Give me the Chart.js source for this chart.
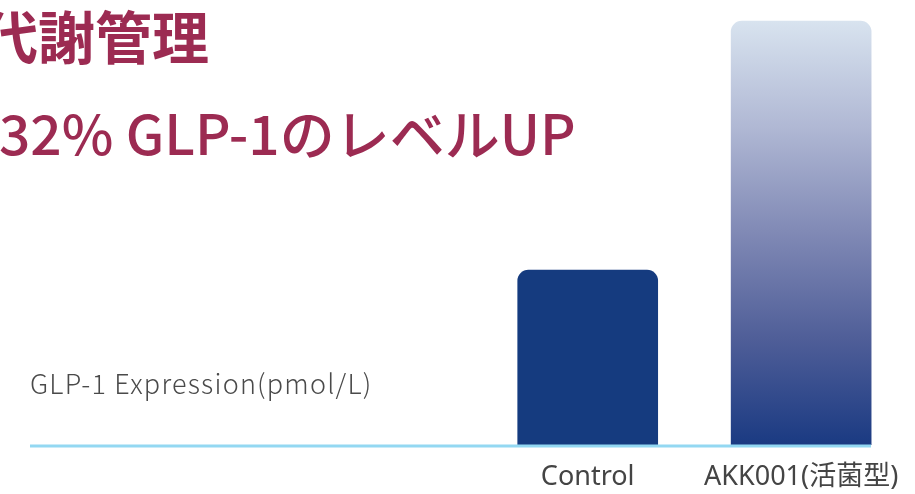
<!DOCTYPE html>
<html>
<head>
<meta charset="utf-8">
<script src="https://cdn.jsdelivr.net/npm/chart.js"></script>
<style>
  body { margin: 0; background: #fff; overflow: hidden; }
  #wrap { position: relative; width: 915px; height: 494px; }
  #chart { position: absolute; left: 0; top: 0; }
  .title1 {
    position: absolute; left: -19px; top: -7px; white-space: nowrap;
    font-family: "Noto Sans CJK JP", sans-serif; font-weight: 700;
    font-size: 57px; color: #9c2b52;
  }
  .title2 {
    position: absolute; left: -1px; top: 91px; white-space: nowrap;
    font-family: "Noto Sans CJK JP", sans-serif; font-weight: 500;
    font-size: 55px; color: #9c2b52;
  }
  .ylabel {
    position: absolute; left: 30px; top: 363px; white-space: nowrap;
    font-family: "Noto Sans CJK JP", sans-serif; font-weight: 300;
    font-size: 27px; letter-spacing: 1.2px; color: #4a4a4a;
  }
</style>
</head>
<body>
<div id="wrap">
  <canvas id="chart" width="915" height="494"></canvas>
  <div class="title1">代謝管理</div>
  <div class="title2">32% GLP-1のレベルUP</div>
  <div class="ylabel">GLP-1 Expression(pmol/L)</div>
</div>
<script>
// Data
const categories = ['Control', 'AKK001(活菌型)'];
const glp1Values = [17.5, 42.4];
const yMax = 44;

// baseline from the left label edge to the last bar
const baselinePlugin = {
  id: 'baseline',
  afterDatasetsDraw(chart) {
    const ctx = chart.ctx;
    const y = chart.scales.y.getPixelForValue(0);
    ctx.save();
    ctx.strokeStyle = '#93d8f2';
    ctx.lineWidth = 3;
    ctx.beginPath();
    ctx.moveTo(30, y + 1);
    ctx.lineTo(871, y + 1);
    ctx.stroke();
    ctx.restore();
  }
};

function barColor(context) {
  const chart = context.chart;
  const area = chart.chartArea;
  if (!area) return '#153b7f';
  if (context.dataIndex === 0) return '#153b7f';
  const y = chart.scales.y;
  const g = chart.ctx.createLinearGradient(0, y.getPixelForValue(glp1Values[1]), 0, y.getPixelForValue(0));
  g.addColorStop(0, '#d8e3ef');
  g.addColorStop(0.25, '#b0b8d4');
  g.addColorStop(0.5, '#8089b5');
  g.addColorStop(0.75, '#4f5e98');
  g.addColorStop(1, '#1a3a82');
  return g;
}

const ctx = document.getElementById('chart').getContext('2d');
new Chart(ctx, {
  type: 'bar',
  data: {
    labels: categories,
    datasets: [{
      data: glp1Values,
      backgroundColor: barColor,
      borderRadius: { topLeft: 11, topRight: 11 },
      borderSkipped: 'bottom',
      barThickness: 140
    }]
  },
  options: {
    responsive: false,
    animation: false,
    layout: { padding: { left: 481, right: 3, top: 5, bottom: 0 } },
    plugins: { legend: { display: false }, tooltip: { enabled: false } },
    scales: {
      x: {
        grid: { display: false, drawTicks: false },
        border: { display: false },
        afterFit(scale) { scale.height = 49; },
        ticks: {
          color: '#444',
          padding: 16,
          maxRotation: 0,
          font: { family: 'Noto Sans, Noto Sans CJK JP', size: 27, weight: 400 }
        }
      },
      y: {
        display: false,
        min: 0,
        max: yMax
      }
    }
  },
  plugins: [baselinePlugin]
});
</script>
</body>
</html>
